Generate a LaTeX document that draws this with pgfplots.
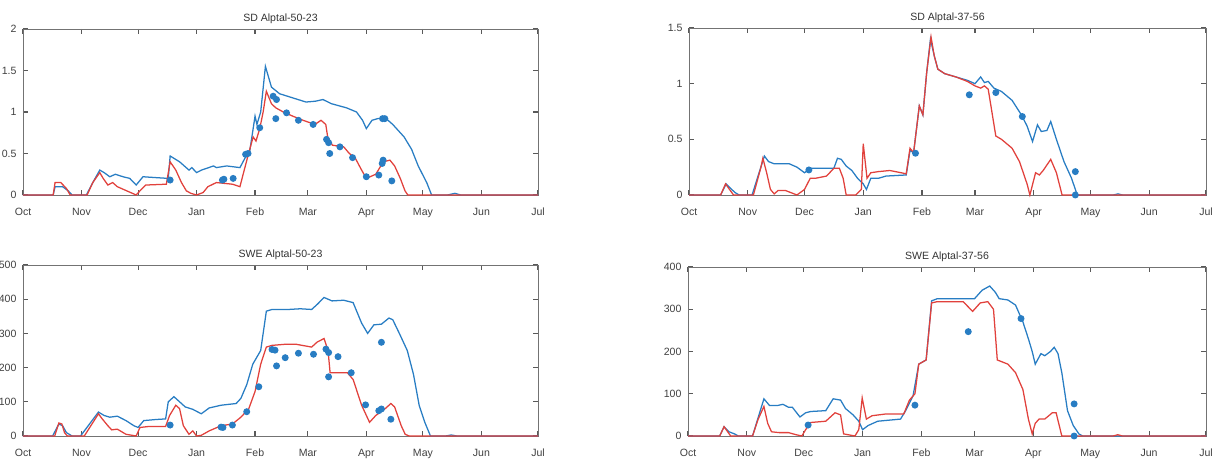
\documentclass[border=0pt]{standalone}
\usepackage{fontspec}
\setmainfont{Liberation Sans}
\usepackage{pgfplots}
\pgfplotsset{compat=1.18}
\definecolor{mblue}{RGB}{40,125,195}
\definecolor{mred}{RGB}{225,65,60}
\pgfplotsset{
  panel/.style={
    scale only axis,
    xmin=0, xmax=273,
    xtick={0,31,61,92,123,151,182,212,243,273},
    xticklabels={Oct,Nov,Dec,Jan,Feb,Mar,Apr,May,Jun,Jul},
    tick align=inside,
    major tick length=1.3mm,
    tick style={black!65, line width=0.8pt},
    axis line style={black!55, line width=0.7pt},
    ticklabel style={font=\fontsize{7.5}{9}\selectfont, text=black!75},
    /pgf/number format/assume math mode=true,
    xticklabel style={yshift=-0.9mm, text height=1.6ex, text depth=0.3ex},
    yticklabel style={xshift=-0.4mm},
    title style={font=\fontsize{7.5}{9}\selectfont, text=black!80, yshift=-2.1mm},
    every axis plot/.append style={line width=0.9pt},
    clip=false,
  },
  bl/.style={mblue, no markers},
  rd/.style={mred, no markers},
  mk/.style={only marks, mark=*, mark size=2pt, mblue, mark options={draw=mblue, fill=mblue}},
}
\begin{document}
\begin{tikzpicture}
% ---------- top left ----------
\begin{axis}[panel, at={(5.75mm,67.5mm)}, anchor=south west,
  width=128.75mm, height=41.5mm, ymin=0, ymax=2, ytick={0,0.5,1,1.5,2},
  title={SD Alptal-50-23}]
\addplot[bl] coordinates {(0,0)(16,0)(17,0.1)(21,0.1)(24,0.05)(26,0)(33.6,0)(37,0.15)(40.7,0.3)(43,0.27)(46,0.22)(49,0.25)(53,0.22)(56.6,0.2)(60,0.12)(63.6,0.22)(70,0.21)(77,0.2)(78,0.47)(83,0.4)(88,0.3)(89.5,0.33)(92,0.27)(94.6,0.3)(101,0.35)(102.5,0.33)(108,0.35)(115,0.33)(118.5,0.48)(120,0.5)(123,0.95)(124,0.85)(126,1.0)(128.5,1.55)(131.7,1.3)(136,1.22)(143,1.17)(150,1.12)(155,1.13)(159,1.15)(163.5,1.1)(171.5,1.05)(176.8,1.0)(180,0.9)(182,0.8)(185,0.9)(188,0.92)(192,0.93)(196,0.85)(202,0.7)(206,0.55)(209.5,0.35)(214,0.15)(216.6,0)(225,0)(229,0.02)(232,0)(273,0)};
\addplot[rd] coordinates {(0,0)(16,0)(17,0.15)(20,0.15)(23,0.08)(25,0)(34,0)(37,0.15)(40.7,0.27)(42.5,0.2)(45,0.12)(47.5,0.15)(50,0.1)(55,0.05)(58,0.02)(60,0)(62,0.05)(65,0.12)(76,0.13)(78,0.4)(81,0.3)(84,0.15)(86.6,0.05)(89,0.02)(92,0)(95.5,0.03)(98,0.1)(102.5,0.15)(111,0.13)(115,0.1)(116.7,0.25)(119,0.45)(122,0.7)(123.5,0.65)(125.5,0.8)(127.3,1.0)(129,1.25)(131.7,1.1)(134,1.05)(138,1.0)(143,0.95)(148.5,0.9)(154.7,0.85)(158,0.9)(160.5,0.85)(161.5,0.7)(164,0.6)(170,0.58)(173,0.5)(176,0.45)(179.5,0.3)(182,0.2)(187,0.25)(191,0.4)(194.5,0.42)(197,0.35)(200,0.2)(202.5,0.05)(204,0)(273,0)};
\addplot[mk] coordinates {(78,0.18)(105.7,0.18)(106.5,0.19)(111.4,0.2)(118,0.49)(119.3,0.5)(125.5,0.81)(132.6,1.19)(134.4,1.15)(134,0.92)(139.7,0.99)(146,0.9)(153.8,0.85)(160.9,0.67)(162,0.63)(162.6,0.5)(168,0.58)(174.7,0.45)(182,0.22)(188.6,0.24)(190.4,0.38)(190.9,0.42)(190.6,0.92)(191.8,0.92)(195.5,0.17)};
\end{axis}
% ---------- top right ----------
\begin{axis}[panel, at={(172.25mm,67.5mm)}, anchor=south west,
  width=129.25mm, height=41.75mm, ymin=0, ymax=1.5, ytick={0,0.5,1,1.5},
  title={SD Alptal-37-56}]
\addplot[bl] coordinates {(0,0)(16.7,0)(19.6,0.1)(22.5,0.05)(24.5,0.02)(26.5,0)(33.3,0)(37,0.2)(39.8,0.35)(42,0.3)(45,0.28)(49,0.28)(53,0.28)(57,0.25)(61,0.2)(64,0.24)(72.6,0.24)(76.5,0.24)(78.4,0.33)(80.4,0.32)(83,0.26)(86,0.22)(89,0.15)(92,0.1)(93.7,0.05)(96,0.15)(100,0.15)(104,0.17)(114.7,0.18)(116.7,0.4)(118.6,0.38)(121.6,0.8)(123.5,0.72)(125.5,1.1)(127.5,1.4)(129.5,1.25)(131.4,1.13)(135,1.09)(141,1.06)(147,1.03)(151,1.0)(154,1.06)(156,1.01)(158,1.02)(161,0.96)(165,0.93)(170.6,0.85)(175.5,0.72)(178.5,0.62)(181.4,0.48)(184,0.63)(186,0.57)(189,0.58)(191,0.66)(194,0.5)(198,0.3)(202,0.15)(205,0)(224,0)(226.5,0.01)(229,0)(273,0)};
\addplot[rd] coordinates {(0,0)(16.7,0)(19.3,0.1)(23.5,0)(34,0)(38,0.25)(39,0.33)(41,0.2)(43,0.05)(45,0.01)(47,0.04)(51,0.04)(54,0.02)(57,0)(61,0.05)(64,0.15)(66.7,0.15)(72.6,0.17)(76.5,0.24)(79.4,0.24)(81.4,0.15)(83,0)(88,0)(91,0.05)(92,0.46)(94,0.15)(96,0.2)(100,0.21)(106,0.22)(112,0.2)(114.7,0.19)(116.7,0.42)(118.6,0.38)(121.6,0.8)(123.5,0.72)(125.5,1.1)(127.8,1.42)(129.5,1.25)(131.4,1.13)(135,1.09)(141,1.06)(147,1.02)(151,0.98)(154,0.96)(156,0.98)(158,0.95)(162,0.53)(165,0.5)(170.6,0.42)(174.5,0.3)(178.5,0.1)(180,0)(183,0.2)(185,0.18)(187,0.22)(191,0.32)(194,0.2)(197,0)(273,0)};
\addplot[mk] coordinates {(63.3,0.225)(119.6,0.375)(148,0.9)(162,0.92)(176,0.705)(204,0.21)(204,0)};
\end{axis}
% ---------- bottom left ----------
\begin{axis}[panel, at={(5.75mm,7.25mm)}, anchor=south west,
  width=128.75mm, height=42.75mm, ymin=0, ymax=500, ytick={0,100,200,300,400,500},
  title={SWE Alptal-50-23}]
\addplot[bl] coordinates {(0,0)(15.7,0)(19,35)(21,30)(23,10)(26,0)(30.5,0)(40,70)(43,60)(46,55)(50,58)(54.6,45)(58.8,30)(61,25)(64,45)(70,48)(75.6,50)(77,100)(80,115)(83,100)(86,85)(90,78)(94.5,65)(98.7,82)(105,90)(113,95)(115.5,110)(118.6,150)(121.8,210)(126,250)(129,365)(132,370)(140.7,370)(147,372)(153,370)(156,385)(159.6,405)(163.8,395)(170,397)(175,390)(179.5,330)(182.7,300)(186,325)(190,327)(194,345)(196,340)(199.5,300)(203.7,250)(207,180)(210,90)(213,40)(216,0)(224,0)(227,3)(230,0)(273,0)};
\addplot[rd] coordinates {(0,0)(16.8,0)(19,38)(20.6,35)(22,10)(23.5,0)(32.5,0)(40,65)(42,50)(45,30)(47,18)(50,20)(54.6,5)(60,0)(62,25)(67,28)(75.6,28)(77.7,60)(81,90)(83,80)(85,30)(88,5)(90,15)(92,0)(94.5,2)(98.7,15)(105,30)(111,35)(115.5,55)(119.7,80)(123,130)(126,210)(129,260)(132,265)(138.6,268)(145,268)(153,260)(156,275)(159.6,285)(161.7,250)(162.8,185)(172,185)(175,165)(179.5,90)(183.7,40)(187,60)(192,80)(195,95)(197,85)(200.5,30)(202.6,5)(204.7,0)(273,0)};
\addplot[mk] coordinates {(78,32)(105,26)(106,25)(111,32)(118.6,71)(125,144)(132,253)(133.6,251)(134.4,205)(139,229)(146,242)(154,239)(160.6,254)(162,244)(162,173)(167,232)(174,185)(181.6,91)(188.6,74)(190,79)(190,274)(195,49)};
\end{axis}
% ---------- bottom right ----------
\begin{axis}[panel, at={(172mm,7.25mm)}, anchor=south west,
  width=129.5mm, height=42.25mm, ymin=0, ymax=400, ytick={0,100,200,300,400},
  title={SWE Alptal-37-56}]
\addplot[bl] coordinates {(0,0)(16.7,0)(19,22)(21.6,10)(24.5,5)(26.5,0)(34,0)(40,88)(43,72)(47,72)(50,75)(53,68)(55,68)(59,45)(62,55)(64.7,58)(72.6,60)(76.5,88)(80.4,85)(83,65)(87,50)(90,35)(92,15)(95,25)(100,35)(112,40)(114.7,60)(118.6,95)(121.6,170)(125.5,180)(128.4,320)(131.4,325)(151,325)(155,345)(159,355)(162,340)(164,325)(168.6,322)(172.6,310)(176.5,270)(179.4,230)(181.4,200)(183,170)(186,195)(188,190)(191,200)(193,210)(195,195)(197,150)(200,60)(203,25)(206,5)(208,0)(273,0)};
\addplot[rd] coordinates {(0,0)(16.7,0)(19,22)(22.5,0)(34,0)(37,40)(40,70)(42,30)(44,10)(48,8)(53,8)(57,3)(60,0)(62,15)(64.7,32)(72.6,35)(77.5,55)(80.4,50)(82,5)(88,0)(90,15)(91.8,90)(94,40)(97,48)(104,52)(113.7,52)(116.7,85)(119.6,100)(121.6,170)(125.5,180)(128.4,315)(131.4,318)(145,318)(150,295)(154,315)(158,318)(161,300)(163,180)(168.6,170)(172.6,150)(176.5,110)(179.4,40)(181.4,5)(183,30)(185,40)(188,40)(192,55)(194,55)(197,0)(224,0)(226.5,3)(229,0)(273,0)};
\addplot[mk] coordinates {(63.3,26)(119.6,73)(147.7,247)(175.5,278)(203.5,76)(203.5,0)};
\end{axis}
\pgfresetboundingbox
\path[use as bounding box] (0,0) rectangle (306mm,116.25mm);
\end{tikzpicture}
\end{document}
